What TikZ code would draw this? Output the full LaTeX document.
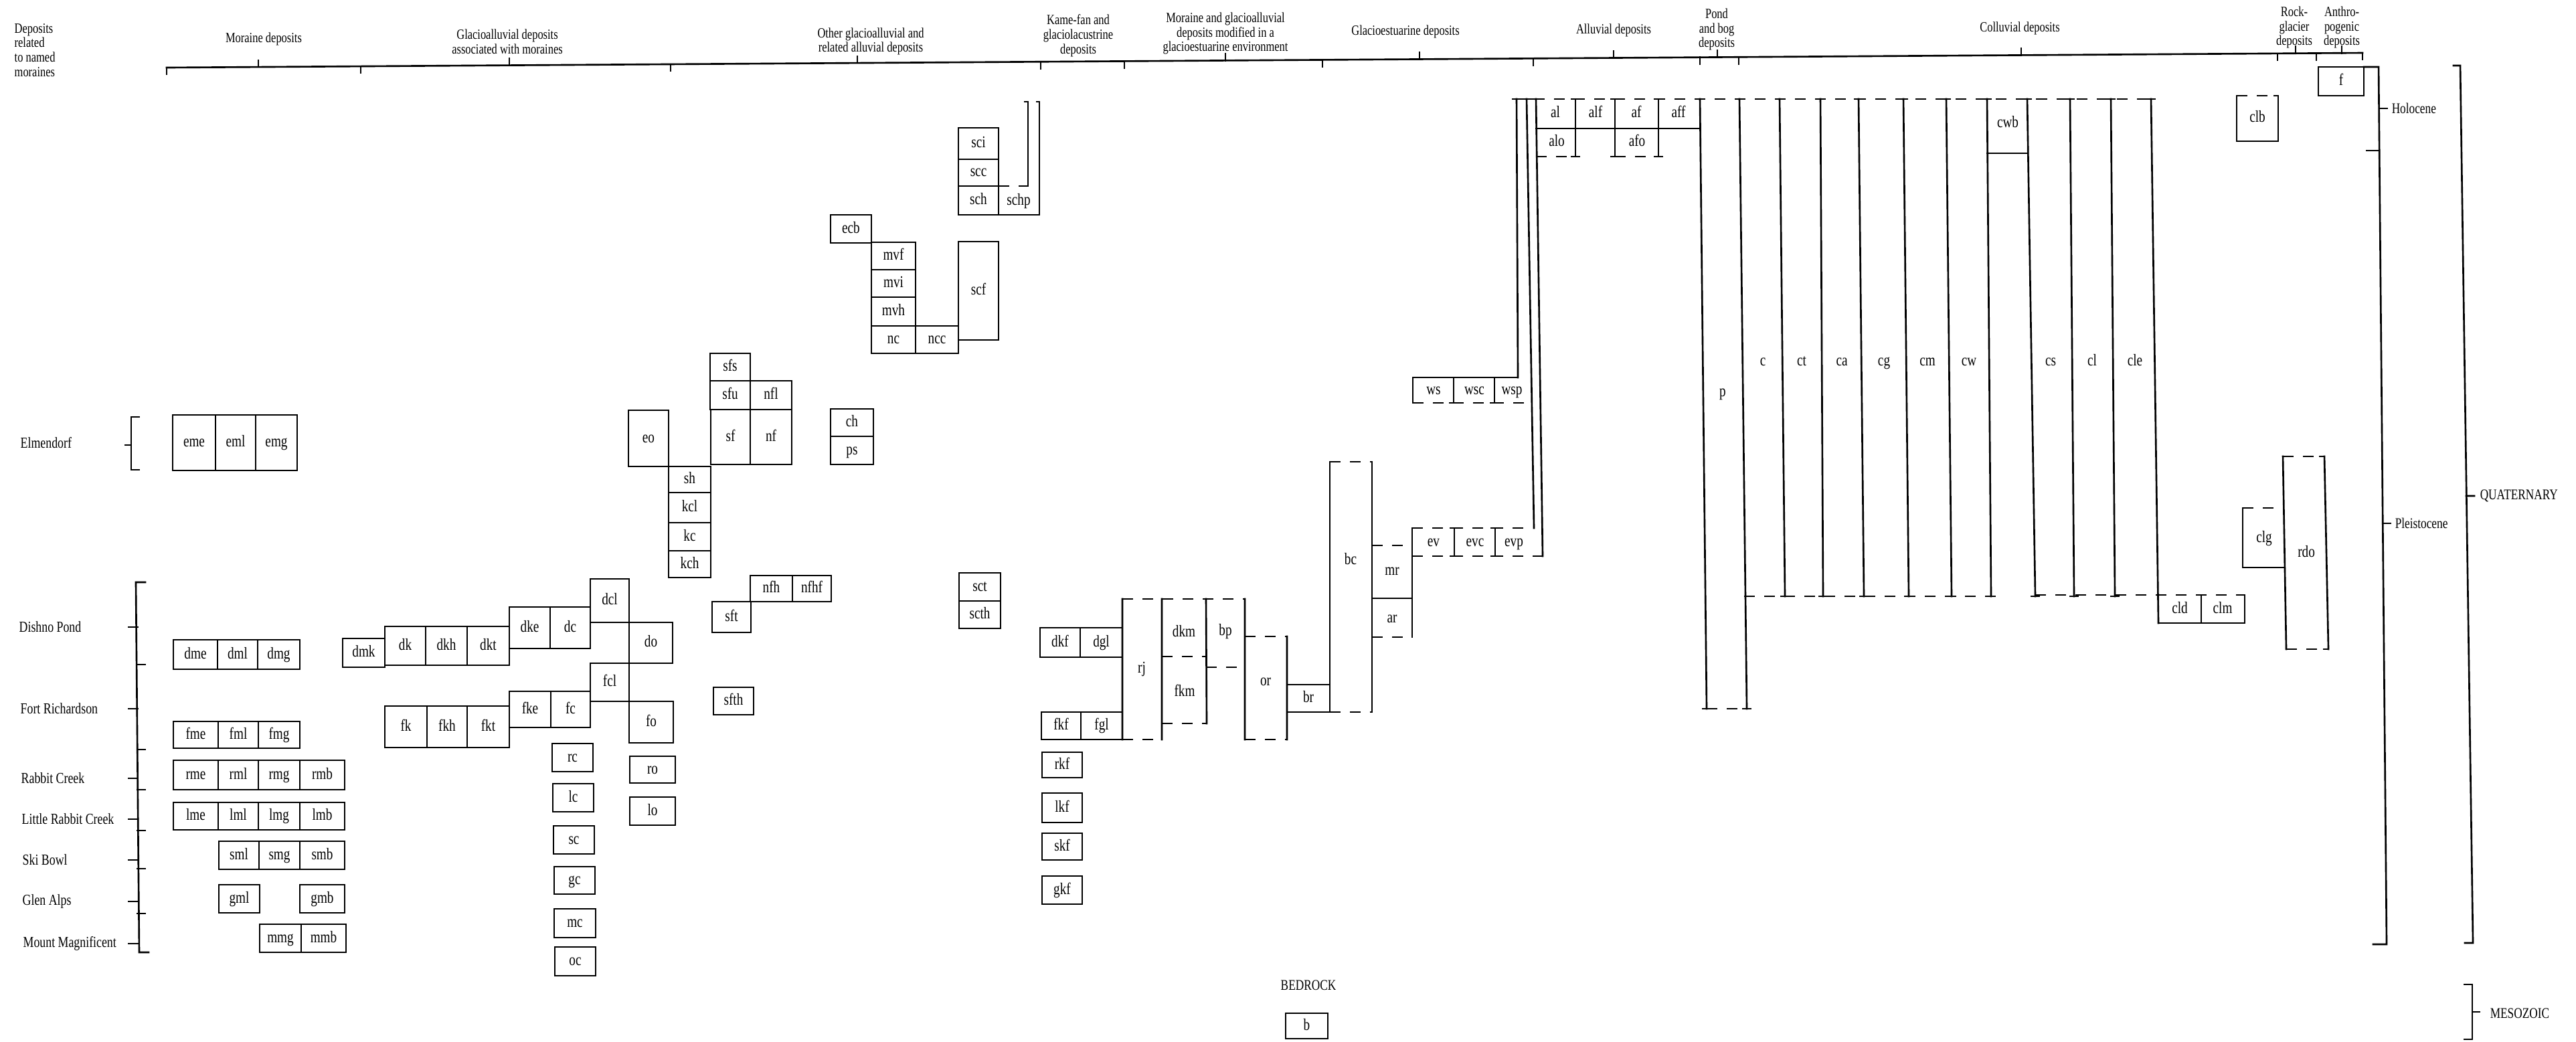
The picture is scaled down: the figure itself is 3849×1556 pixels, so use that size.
\documentclass[tikz,border=0pt]{standalone}
\usepackage{fontspec}
\setmainfont{Liberation Serif}
\newfontfamily\cfont[FakeStretch=0.78]{Liberation Serif}
\newcommand\ubox[6]{\draw[ln] (#2,#3) rectangle (#4,#5); \node[lab] (u-#1) at ({(#2+#4)/2},{(#3+#5)/2}) {#6};}
\newcommand\ulab[4]{\node[lab] (u-#1) at (#2,#3) {#4};}
\newcommand\usep[3]{\draw[ln] (#1-6,#2)--(#1+6,#2) (#1,#2)--(#1,#3) (#1-6,#3)--(#1+6,#3);}
\begin{document}
\begin{tikzpicture}[x=0.01cm,y=-0.01cm,
 ln/.style={line width=0.75pt,line cap=rect},
 ds/.style={line width=0.75pt,dash pattern=on 1.6mm off 1.4mm},
 lab/.style={inner sep=0pt,text height=3.4pt,text depth=0pt,font=\cfont\fontsize{7}{8}\selectfont},
 hd/.style={inner sep=0pt,align=center,font=\cfont\fontsize{6}{6.2}\selectfont},
 nm/.style={inner sep=0pt,anchor=west,font=\cfont\fontsize{6.5}{7}\selectfont},
 era/.style={inner sep=0pt,anchor=west,font=\cfont\fontsize{6.3}{7}\selectfont}]
\useasboundingbox (0,0) rectangle (3849,1556);
% ---------- header ----------
\node[hd,align=left,anchor=west] (h-dep) at (21,75) {Deposits\\related\\to named\\moraines};
\node[hd] (h-mor) at (394,58) {Moraine deposits};
\node[hd] (h-gla) at (758,62) {Glacioalluvial deposits\\associated with moraines};
\node[hd] (h-oth) at (1301,62) {Other glacioalluvial and\\related alluvial deposits};
\node[hd] (h-kam) at (1611,53) {Kame-fan and\\glaciolacustrine\\deposits};
\node[hd] (h-mgl) at (1831,50) {Moraine and glacioalluvial\\deposits modified in a\\glacioestuarine environment};
\node[hd] (h-ges) at (2100,47) {Glacioestuarine deposits};
\node[hd] (h-all) at (2411,45) {Alluvial deposits};
\node[hd] (h-pon) at (2565,44) {Pond\\and bog\\deposits};
\node[hd] (h-col) at (3018,42) {Colluvial deposits};
\node[hd] (h-roc) at (3428,41) {Rock-\\glacier\\deposits};
\node[hd] (h-ant) at (3499,41) {Anthro-\\pogenic\\deposits};
\coordinate (hL) at (249,101);
\coordinate (hR) at (3530,79);
\draw[ln] (hL)--(hR);
\foreach \x/\y in {386/100.1,761/97.6,1281/94.1,1831/90.4,2121/88.4,2411/86.5,2566/85.5,3020/82.4,3430/79.7,3499/79.2}
  {\draw[ln] (\x,\y)--(\x,\y-10);}
\foreach \x/\y in {249/101,539/99.1,1002/96.0,1555/92.2,1680/91.4,1976/89.4,2291/87.3,2540/85.6,2598/85.2,3403/79.9,3461/79.5,3530/79}
  {\draw[ln] (\x,\y)--(\x,\y+10);}
% ---------- named moraines ----------
\node[nm] (m-elm) at (30,662) {Elmendorf};
\node[nm] (m-dis) at (28,937) {Dishno Pond};
\node[nm] (m-for) at (30,1059) {Fort Richardson};
\node[nm] (m-rab) at (31,1163) {Rabbit Creek};
\node[nm] (m-lit) at (32,1224) {Little Rabbit Creek};
\node[nm] (m-ski) at (33,1285) {Ski Bowl};
\node[nm] (m-gle) at (33,1347) {Glen Alps};
\node[nm] (m-mou) at (34,1410) {Mount Magnificent};
\draw[ln] (208,623)--(196,623)--(196,702)--(208,702) (187,665)--(196,665);
\draw[ln] (217,870)--(203,870)--(208,1423)--(222,1423);
\foreach \y in {993,1120,1180,1241,1298,1365} {\draw[ln] (205,\y)--(217,\y);}
\foreach \y in {937,1059,1163,1224,1285,1347,1410} {\draw[ln] (192,\y)--(206,\y);}
% ---------- moraine deposits ----------
\ubox{eme}{258}{620}{322}{703}{eme}\ubox{eml}{322}{620}{382}{703}{eml}\ubox{emg}{382}{620}{444}{703}{emg}
\ubox{dme}{259}{956}{325}{1000}{dme}\ubox{dml}{325}{956}{385}{1000}{dml}\ubox{dmg}{385}{956}{448}{1000}{dmg}
\ubox{fme}{259}{1078}{326}{1118}{fme}\ubox{fml}{326}{1078}{386}{1118}{fml}\ubox{fmg}{386}{1078}{448}{1118}{fmg}
\ubox{rme}{259}{1136}{326}{1180}{rme}\ubox{rml}{326}{1136}{386}{1180}{rml}\ubox{rmg}{386}{1136}{448}{1180}{rmg}\ubox{rmb}{448}{1136}{515}{1180}{rmb}
\ubox{lme}{259}{1199}{326}{1240}{lme}\ubox{lml}{326}{1199}{386}{1240}{lml}\ubox{lmg}{386}{1199}{448}{1240}{lmg}\ubox{lmb}{448}{1199}{515}{1240}{lmb}
\ubox{sml}{327}{1257}{387}{1299}{sml}\ubox{smg}{387}{1257}{448}{1299}{smg}\ubox{smb}{448}{1257}{515}{1299}{smb}
\ubox{gml}{327}{1322}{388}{1364}{gml}\ubox{gmb}{448}{1322}{515}{1364}{gmb}
\ubox{mmg}{388}{1381}{450}{1423}{mmg}\ubox{mmb}{450}{1381}{517}{1423}{mmb}
% ---------- glacioalluvial with moraines ----------
\ubox{dmk}{512}{954}{575}{997}{dmk}
\ubox{dk}{575}{936}{636}{994}{dk}\ubox{dkh}{636}{936}{698}{994}{dkh}\ubox{dkt}{698}{936}{761}{994}{dkt}
\ubox{dke}{761}{907}{822}{969}{dke}\ubox{dc}{822}{907}{882}{969}{dc}
\ubox{dcl}{882}{865}{940}{930}{dcl}
\ubox{do}{940}{930}{1005}{991}{do}
\ubox{fk}{575}{1055}{638}{1117}{fk}\ubox{fkh}{638}{1055}{698}{1117}{fkh}\ubox{fkt}{698}{1055}{761}{1117}{fkt}
\ubox{fke}{761}{1033}{823}{1087}{fke}\ubox{fc}{823}{1033}{882}{1087}{fc}
\ubox{fcl}{882}{991}{940}{1048}{fcl}
\ubox{fo}{940}{1048}{1006}{1110}{fo}
\ubox{rc}{825}{1111}{886}{1153}{rc}
\ubox{lc}{826}{1171}{887}{1213}{lc}
\ubox{sc}{827}{1234}{888}{1276}{sc}
\ubox{gc}{828}{1295}{889}{1336}{gc}
\ubox{mc}{828}{1358}{890}{1401}{mc}
\ubox{oc}{829}{1415}{890}{1458}{oc}
% ---------- other glacioalluvial ----------
\ubox{eo}{939}{613}{999}{697}{eo}
\ubox{sh}{999}{697}{1062}{736}{sh}\ubox{kcl}{999}{736}{1062}{781}{kcl}\ubox{kc}{999}{781}{1062}{823}{kc}\ubox{kch}{999}{823}{1062}{863}{kch}
\ubox{sfs}{1061}{528}{1121}{569}{sfs}
\ubox{sfu}{1061}{569}{1121}{612}{sfu}\ubox{nfl}{1121}{569}{1183}{612}{nfl}
\ubox{sf}{1062}{612}{1121}{694}{sf}\ubox{nf}{1121}{612}{1183}{694}{nf}
\ubox{nfh}{1121}{860}{1184}{899}{nfh}\ubox{nfhf}{1184}{860}{1242}{899}{nfhf}
\ubox{sft}{1064}{899}{1122}{945}{sft}
\ubox{sfth}{1066}{1027}{1126}{1068}{sfth}
\ubox{ro}{941}{1130}{1009}{1170}{ro}
\ubox{lo}{941}{1191}{1009}{1233}{lo}
\ubox{ch}{1241}{611}{1305}{652}{ch}\ubox{ps}{1241}{652}{1305}{694}{ps}
\ubox{ecb}{1241}{321}{1302}{363}{ecb}
\ubox{mvf}{1302}{362}{1368}{403}{mvf}\ubox{mvi}{1302}{403}{1368}{444}{mvi}\ubox{mvh}{1302}{444}{1368}{487}{mvh}
\ubox{nc}{1302}{487}{1368}{528}{nc}\ubox{ncc}{1368}{487}{1432}{528}{ncc}
\ubox{scf}{1432}{361}{1492}{508}{scf}
\ubox{sci}{1432}{191}{1492}{238}{sci}\ubox{scc}{1432}{238}{1492}{278}{scc}\ubox{sch}{1432}{278}{1492}{321}{sch}
\draw[ds] (1492,278)--(1536,278);
\draw[ln] (1536,278)--(1536,152)--(1531,152) (1549,152)--(1553,152)--(1553,321)--(1492,321);
\ulab{schp}{1522}{300}{schp}
\ubox{sct}{1433}{856}{1495}{898}{sct}\ubox{scth}{1433}{898}{1495}{939}{scth}
% ---------- kame-fan ----------
\ubox{dkf}{1554}{938}{1614}{982}{dkf}\ubox{dgl}{1614}{938}{1677}{982}{dgl}
\ubox{fkf}{1556}{1064}{1615}{1105}{fkf}\ubox{fgl}{1615}{1064}{1677}{1105}{fgl}
\ubox{rkf}{1557}{1124}{1617}{1162}{rkf}
\ubox{lkf}{1557}{1185}{1617}{1229}{lkf}
\ubox{skf}{1557}{1245}{1617}{1285}{skf}
\ubox{gkf}{1557}{1309}{1617}{1351}{gkf}
% ---------- moraine and glacioalluvial, glacioestuarine ----------
\draw[ln] (1677,895)--(1677,1105) (1736,895)--(1736,1105) (1802,895)--(1803,1081) (1860,895)--(1860,1105) (1923,951)--(1923,1105);
\draw[ds] (1677,895)--(1860,895) (1677,1105)--(1736,1105) (1736,981)--(1802,981) (1736,1081)--(1803,1081) (1802,997)--(1860,997) (1860,951)--(1923,951) (1860,1105)--(1923,1105);
\ulab{rj}{1706}{999}{rj}\ulab{dkm}{1769}{945}{dkm}\ulab{fkm}{1770}{1034}{fkm}\ulab{bp}{1831}{943}{bp}\ulab{or}{1891}{1018}{or}
\ubox{br}{1923}{1023}{1987}{1064}{br}
\draw[ln] (1987,690)--(1987,1064) (2050,690)--(2050,1064);
\draw[ds] (1987,690)--(2050,690) (1987,1064)--(2050,1064);
\ulab{bc}{2018}{837}{bc}
\draw[ds] (2050,815)--(2110,815) (2050,952)--(2110,952);
\draw[ln] (2050,894)--(2110,894) (2110,789)--(2110,952);
\ulab{mr}{2080}{853}{mr}\ulab{ar}{2080}{924}{ar}
\draw[ds] (2110,789)--(2290,789) (2110,831)--(2305,831);
\usep{2173}{789}{831}\usep{2234}{789}{831}
\ulab{ev}{2142}{810}{ev}\ulab{evc}{2204}{810}{evc}\ulab{evp}{2262}{810}{evp}
\draw[ln] (2111,602)--(2111,564)--(2268,564);
\draw[ds] (2111,602)--(2287,602);
\usep{2172}{564}{602}\usep{2233}{564}{602}
\ulab{ws}{2142}{583}{ws}\ulab{wsc}{2203}{583}{wsc}\ulab{wsp}{2259}{583}{wsp}
\draw[ln] (2266,148)--(2268,564) (2281,148)--(2292,789) (2295,148)--(2305,831);
% ---------- alluvial ----------
\draw[ds] (2262,148)--(3220,148);
\foreach \x in {2266,2281,2295,2354,2413,2478,2540,2599,2659,2720,2777,2844,2908,2969,3029,3093,3154,3214}
  {\draw[ln] (\x-6,148)--(\x+6,148);}
\draw[ln] (2295,192)--(2540,192);
\draw[ds] (2295,234)--(2354,234) (2413,234)--(2478,234);
\usep{2354}{148}{234}\usep{2413}{148}{234}\usep{2478}{148}{234}
\ulab{al}{2324}{170}{al}\ulab{alf}{2384}{170}{alf}\ulab{af}{2445}{170}{af}\ulab{aff}{2508}{170}{aff}
\ulab{alo}{2326}{213}{alo}\ulab{afo}{2446}{213}{afo}
% ---------- pond and bog ----------
\draw[ln] (2540,148)--(2550,1059) (2599,148)--(2610,1059);
\draw[ds] (2550,1059)--(2610,1059);
\draw[ln] (2544,1059)--(2556,1059) (2604,1059)--(2616,1059);
\ulab{p}{2574}{586}{p}
% ---------- colluvial ----------
\foreach \a/\b in {2659/2667,2720/2724,2777/2785,2844/2852,2908/2916,2969/2975,3029/3041,3093/3099,3154/3160}
  {\draw[ln] (\a,148)--(\b,891); \draw[ln] (\b-6,891)--(\b+6,891);}
\draw[ln] (3214,148)--(3225,931);
\draw[ds] (2606,891)--(2975,891) (3041,889)--(3354,889);
\draw[ln] (2969,229)--(3030,229);
\ulab{cwb}{3000}{185}{cwb}
\ulab{c}{2634}{540}{c}\ulab{ct}{2692}{540}{ct}\ulab{ca}{2752}{540}{ca}\ulab{cg}{2815}{540}{cg}
\ulab{cm}{2880}{540}{cm}\ulab{cw}{2942}{540}{cw}\ulab{cs}{3064}{540}{cs}\ulab{cl}{3126}{540}{cl}\ulab{cle}{3190}{540}{cle}
\draw[ln] (3225,931)--(3354,931)--(3354,889) (3289,889)--(3289,931) (3283,889)--(3295,889) (3348,889)--(3354,889);
\ulab{cld}{3257}{910}{cld}\ulab{clm}{3321}{910}{clm}
\draw[ds] (3342,143)--(3404,143);
\draw[ln] (3348,143)--(3342,143)--(3342,211)--(3404,211)--(3404,143)--(3398,143);
\ulab{clb}{3373}{177}{clb}
\draw[ds] (3351,759)--(3413,759);
\draw[ln] (3357,759)--(3351,759)--(3351,848)--(3414,848);
\ulab{clg}{3383}{804}{clg}
\draw[ln] (3411,682)--(3416,970) (3473,682)--(3479,970);
\draw[ds] (3411,682)--(3473,682) (3416,970)--(3479,970);
\draw[ln] (3411,682)--(3418,682) (3466,682)--(3473,682) (3416,970)--(3423,970) (3472,970)--(3479,970);
\ulab{rdo}{3446}{826}{rdo}
% ---------- anthropogenic ----------
\ubox{f}{3464}{100}{3532}{143}{f}
% ---------- time scale ----------
\draw[ln] (3532,100)--(3554,100)--(3566,1411)--(3546,1411);
\draw[ln] (3536,225)--(3555,225) (3556,162)--(3567,162) (3561,782)--(3572,782);
\node[era] (t-hol) at (3573,162) {Holocene};
\node[era] (t-ple) at (3578,782) {Pleistocene};
\draw[ln] (3666,98)--(3676,98)--(3695,1409)--(3683,1409) (3685,741)--(3697,741);
\node[era] (t-qua) at (3705,741) {QUATERNARY};
\draw[ln] (3682,1471)--(3694,1471)--(3694,1553)--(3682,1553) (3694,1512)--(3705,1512);
\node[era] (t-mes) at (3720,1514) {MESOZOIC};
% ---------- bedrock ----------
\node[era,anchor=center] (t-bed) at (1955,1472) {BEDROCK};
\ubox{b}{1921}{1514}{1984}{1552}{b}
\end{tikzpicture}
\end{document}
